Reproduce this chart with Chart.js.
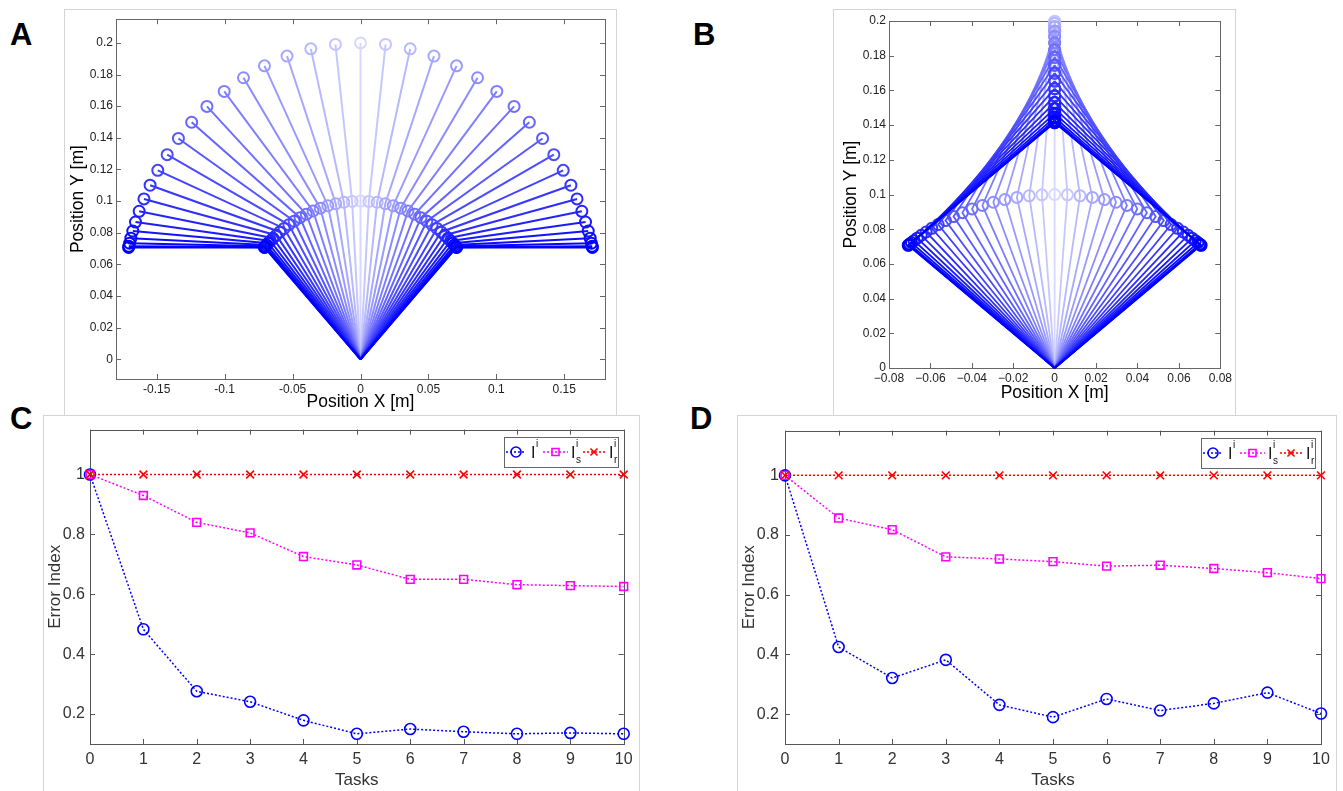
<!DOCTYPE html>
<html>
<head>
<meta charset="utf-8">
<script src="https://cdn.jsdelivr.net/npm/chart.js@4.4.1/dist/chart.umd.min.js"></script>
<style>
  body { margin: 0; background: #fff; width: 1343px; height: 791px; overflow: hidden; position: relative; font-family: "Liberation Sans", Arial, sans-serif; }
  .box { position: absolute; border: 1px solid #d4d4d4; background: #fff; box-sizing: border-box; }
  canvas { position: absolute; }
  .letter { position: absolute; font-weight: bold; font-size: 31px; line-height: 31px; color: #000; }
</style>
</head>
<body>
<div class="box" style="left:43px;top:415px;width:597px;height:390px"></div>
<div class="box" style="left:737px;top:415px;width:600px;height:390px"></div>
<div class="box" style="left:64px;top:9px;width:553px;height:407px"></div>
<div class="box" style="left:833px;top:9px;width:403px;height:407px"></div>

<canvas id="chartA" width="552" height="406" style="left:64px;top:9px"></canvas>
<canvas id="chartB" width="402" height="406" style="left:833px;top:9px"></canvas>
<canvas id="chartC" width="596" height="376" style="left:43px;top:415px"></canvas>
<canvas id="chartD" width="606" height="376" style="left:737px;top:415px"></canvas>

<div class="letter" style="left:10px;top:19px">A</div>
<div class="letter" style="left:693px;top:19px">B</div>
<div class="letter" style="left:10px;top:403px">C</div>
<div class="letter" style="left:690px;top:403px">D</div>

<script>
// ---- panels A / B : arm configurations (base at 0,0 -> elbow -> end point) ----
const elbowX = [-0.07071, -0.07054, -0.07002, -0.06916, -0.06794, -0.06636, -0.06441, -0.06207, -0.05935, -0.05624,
  -0.05273, -0.04883, -0.04454, -0.03990, -0.03491, -0.02961, -0.02403, -0.01823, -0.01226, -0.00616, 0,
  0.00616, 0.01226, 0.01823, 0.02403, 0.02961, 0.03491, 0.03990, 0.04454, 0.04883, 0.05273,
  0.05624, 0.05935, 0.06207, 0.06441, 0.06636, 0.06794, 0.06916, 0.07002, 0.07054, 0.07071];
const elbowY = [0.07071, 0.07088, 0.07139, 0.07223, 0.07338, 0.07481, 0.07650, 0.07840, 0.08048, 0.08269,
  0.08497, 0.08727, 0.08953, 0.09170, 0.09371, 0.09552, 0.09707, 0.09832, 0.09925, 0.09981, 0.10000,
  0.09981, 0.09925, 0.09832, 0.09707, 0.09552, 0.09371, 0.09170, 0.08953, 0.08727, 0.08497,
  0.08269, 0.08048, 0.07840, 0.07650, 0.07481, 0.07338, 0.07223, 0.07139, 0.07088, 0.07071];
const endAX = [-0.17071, -0.17054, -0.17001, -0.16907, -0.16765, -0.16565, -0.16295, -0.15941, -0.15489, -0.14924,
  -0.14233, -0.13404, -0.12430, -0.11306, -0.10033, -0.08616, -0.07069, -0.05409, -0.03658, -0.01845, 0,
  0.01845, 0.03658, 0.05409, 0.07069, 0.08616, 0.10033, 0.11306, 0.12430, 0.13404, 0.14233,
  0.14924, 0.15489, 0.15941, 0.16295, 0.16565, 0.16765, 0.16907, 0.17001, 0.17054, 0.17071];
const endAY = [0.07071, 0.07137, 0.07333, 0.07657, 0.08106, 0.08674, 0.09354, 0.10135, 0.11004, 0.11944,
  0.12937, 0.13960, 0.14986, 0.15987, 0.16934, 0.17799, 0.18552, 0.19168, 0.19624, 0.19905, 0.20000,
  0.19905, 0.19624, 0.19168, 0.18552, 0.17799, 0.16934, 0.15987, 0.14986, 0.13960, 0.12937,
  0.11944, 0.11004, 0.10135, 0.09354, 0.08674, 0.08106, 0.07657, 0.07333, 0.07137, 0.07071];
const endBX = [0, 0, 0, 0, 0, 0, 0, 0, 0, 0, 0, 0, 0, 0, 0, 0, 0, 0, 0, 0, 0,
  0, 0, 0, 0, 0, 0, 0, 0, 0, 0, 0, 0, 0, 0, 0, 0, 0, 0, 0, 0];
const endBY = [0.14142, 0.14176, 0.14278, 0.14446, 0.14675, 0.14962, 0.15299, 0.15681, 0.16097, 0.16538,
  0.16994, 0.17455, 0.17907, 0.18339, 0.18742, 0.19103, 0.19414, 0.19665, 0.19849, 0.19962, 0.20000,
  0.19962, 0.19849, 0.19665, 0.19414, 0.19103, 0.18742, 0.18339, 0.17907, 0.17455, 0.16994,
  0.16538, 0.16097, 0.15681, 0.15299, 0.14962, 0.14675, 0.14446, 0.14278, 0.14176, 0.14142];

const tickAX = [-0.15, -0.1, -0.05, 0, 0.05, 0.1, 0.15];
const tickAXLabels = ['-0.15', '-0.1', '-0.05', '0', '0.05', '0.1', '0.15'];
const tickBX = [-0.08, -0.06, -0.04, -0.02, 0, 0.02, 0.04, 0.06, 0.08];
const tickBXLabels = ['\u22120.08', '\u22120.06', '\u22120.04', '\u22120.02', '0', '0.02', '0.04', '0.06', '0.08'];
const tickPosY = [0, 0.02, 0.04, 0.06, 0.08, 0.1, 0.12, 0.14, 0.16, 0.18, 0.2];
const tickPosYLabels = ['0', '0.02', '0.04', '0.06', '0.08', '0.1', '0.12', '0.14', '0.16', '0.18', '0.2'];

// ---- panels C / D : error index per task ----
const tasks = [0, 1, 2, 3, 4, 5, 6, 7, 8, 9, 10];
const errC_I  = [1, 0.483, 0.276, 0.241, 0.179, 0.134, 0.150, 0.141, 0.134, 0.137, 0.134];
const errC_Is = [1, 0.930, 0.840, 0.805, 0.726, 0.698, 0.650, 0.650, 0.632, 0.629, 0.626];
const errC_Ir = [1, 1, 1, 1, 1, 1, 1, 1, 1, 1, 1];
const errD_I  = [1, 0.425, 0.321, 0.382, 0.231, 0.190, 0.251, 0.212, 0.236, 0.272, 0.202];
const errD_Is = [1, 0.857, 0.818, 0.727, 0.720, 0.711, 0.696, 0.699, 0.688, 0.674, 0.654];
const errD_Ir = [1, 1, 1, 1, 1, 1, 1, 1, 1, 1, 1];
const tickErr = [0.2, 0.4, 0.6, 0.8, 1];
const tickErrLabels = ['0.2', '0.4', '0.6', '0.8', '1'];
const seriesSub = ['', 's', 'r'];

const FONT = '"Liberation Sans", Arial, sans-serif';

// MATLAB style box with inward ticks on all four sides
const framePlugin = {
  id: 'frame',
  beforeDatasetsDraw(chart, args, opts) {
    const { ctx, chartArea: a, scales: { x, y } } = chart;
    const L = opts.tick;
    ctx.save();
    ctx.strokeStyle = opts.color;
    ctx.lineWidth = 1;
    ctx.beginPath();
    x.ticks.forEach(t => {
      const px = Math.round(x.getPixelForValue(t.value)) + 0.5;
      ctx.moveTo(px, a.bottom); ctx.lineTo(px, a.bottom - L);
      ctx.moveTo(px, a.top); ctx.lineTo(px, a.top + L);
    });
    y.ticks.forEach(t => {
      const py = Math.round(y.getPixelForValue(t.value)) + 0.5;
      ctx.moveTo(a.left, py); ctx.lineTo(a.left + L, py);
      ctx.moveTo(a.right, py); ctx.lineTo(a.right - L, py);
    });
    ctx.stroke();
    ctx.strokeRect(Math.round(a.left) + 0.5, Math.round(a.top) + 0.5,
      Math.round(a.right - a.left), Math.round(a.bottom - a.top));
    ctx.restore();
  }
};

// legend box with I^i, I_s^i, I_r^i
const legendPlugin = {
  id: 'mlegend',
  afterDatasetsDraw(chart) {
    const { ctx, chartArea: a } = chart;
    const w = 114, h = 30;
    const L = Math.round(a.right - 6 - w), T = Math.round(a.top + 7);
    const slots = [[2, 22, 27], [39, 64, 67], [79, 101, 105]];
    ctx.save();
    ctx.fillStyle = '#fff';
    ctx.fillRect(L, T, w, h);
    ctx.strokeStyle = '#666';
    ctx.lineWidth = 1;
    ctx.strokeRect(L + 0.5, T + 0.5, w, h);
    const cy = T + h / 2;
    chart.data.datasets.forEach((ds, i) => {
      const [x0, x1, tx] = slots[i];
      ctx.strokeStyle = ds.borderColor;
      ctx.lineWidth = ds.borderWidth;
      ctx.setLineDash(ds.borderDash);
      ctx.beginPath();
      ctx.moveTo(L + x0, cy); ctx.lineTo(L + x1, cy);
      ctx.stroke();
      ctx.setLineDash([]);
      ctx.fillStyle = 'rgba(0,0,0,0)';
      ctx.lineWidth = ds.pointBorderWidth;
      Chart.helpers.drawPoint(ctx, { pointStyle: ds.pointStyle, radius: ds.pointRadius - 0.5, rotation: 0, borderWidth: ds.pointBorderWidth }, L + (x0 + x1) / 2, cy);
      ctx.fillStyle = '#111';
      ctx.textBaseline = 'alphabetic';
      ctx.font = '16px ' + FONT;
      ctx.fillText('I', L + tx, cy + 6);
      ctx.font = '10px ' + FONT;
      ctx.fillText('i', L + tx + 5, cy - 5);
      if (seriesSub[i]) ctx.fillText(seriesSub[i], L + tx + 5, cy + 11);
    });
    ctx.restore();
  }
};

function armDatasets(endX, endY, width, radius) {
  const mid = (elbowX.length - 1) / 2;
  return elbowX.map((ex, i) => {
    const t = Math.abs(i - mid) / mid;
    const c = Math.round(215 * Math.pow(1 - t, 1.5));
    const col = `rgb(${c},${c},255)`;
    return {
      data: [{ x: 0, y: 0 }, { x: ex, y: elbowY[i] }, { x: endX[i], y: endY[i] }],
      showLine: true,
      borderColor: col,
      borderWidth: width,
      pointRadius: [0, radius, radius],
      pointBorderColor: col,
      pointBackgroundColor: 'rgba(0,0,0,0)',
      pointBorderWidth: 2,
      order: Math.round(mid - Math.abs(i - mid)),
      clip: false
    };
  });
}

function linAxis(cfg) {
  return {
    type: 'linear',
    min: cfg.min, max: cfg.max,
    afterBuildTicks: s => { s.ticks = cfg.ticks.map(v => ({ value: v })); },
    afterFit: s => { if (cfg.size.w !== undefined) s.width = cfg.size.w; else s.height = cfg.size.h; },
    grid: { display: false, drawTicks: false },
    border: { display: false },
    ticks: {
      autoSkip: false, maxRotation: 0, padding: cfg.pad,
      color: cfg.tickColor, font: { family: FONT, size: cfg.tickSize },
      callback: (v, i) => cfg.labels[i]
    },
    title: {
      display: true, text: cfg.title, color: cfg.titleColor,
      font: { family: FONT, size: cfg.titleSize },
      padding: cfg.titlePad
    }
  };
}

function armChart(id, endX, endY, x, y, padding, width, radius) {
  return new Chart(document.getElementById(id), {
    type: 'scatter',
    data: { datasets: armDatasets(endX, endY, width, radius) },
    options: {
      responsive: false, animation: false,
      layout: { padding: padding },
      plugins: { legend: { display: false }, tooltip: { enabled: false }, frame: { color: '#666', tick: 5 } },
      scales: { x: linAxis(x), y: linAxis(y) }
    },
    plugins: [framePlugin]
  });
}

armChart('chartA', endAX, endAY,
  { min: -0.18, max: 0.18, ticks: tickAX, labels: tickAXLabels, size: { h: 36 }, pad: 3, tickColor: '#222', tickSize: 12,
    title: 'Position X [m]', titleColor: '#000', titleSize: 17.5, titlePad: { top: 0, bottom: 2.5 } },
  { min: -0.0125, max: 0.215, ticks: tickPosY, labels: tickPosYLabels, size: { w: 52 }, pad: 3, tickColor: '#222', tickSize: 12,
    title: 'Position Y [m]', titleColor: '#000', titleSize: 17.5, titlePad: { top: 3.5, bottom: 0 } },
  { left: 0, top: 6, right: 11, bottom: 0 }, 2, 5.5);

armChart('chartB', endBX, endBY,
  { min: -0.08, max: 0.08, ticks: tickBX, labels: tickBXLabels, size: { h: 47 }, pad: 3, tickColor: '#222', tickSize: 12,
    title: 'Position X [m]', titleColor: '#000', titleSize: 17.5, titlePad: { top: 0, bottom: 11.5 } },
  { min: 0, max: 0.2, ticks: tickPosY, labels: tickPosYLabels, size: { w: 56 }, pad: 3, tickColor: '#222', tickSize: 12,
    title: 'Position Y [m]', titleColor: '#000', titleSize: 17.5, titlePad: { top: 7.5, bottom: 0 } },
  { left: 0, top: 12, right: 13, bottom: 0 }, 1.8, 5.5);

function errDataset(values, color, style, order) {
  return {
    data: tasks.map((t, i) => ({ x: t, y: values[i] })),
    showLine: true,
    borderColor: color,
    borderWidth: 1.5,
    borderDash: [2, 2],
    pointStyle: style,
    pointRadius: 5.5,
    pointBorderColor: color,
    pointBackgroundColor: 'rgba(0,0,0,0)',
    pointBorderWidth: 1.6,
    order: order,
    clip: false
  };
}

function errChart(id, vI, vIs, vIr, yW, yPad, right) {
  return new Chart(document.getElementById(id), {
    type: 'scatter',
    data: {
      datasets: [
        errDataset(vI, '#0000ff', 'circle', 2),
        errDataset(vIs, '#ff00ff', 'rect', 1),
        errDataset(vIr, '#ff0000', 'crossRot', 0)
      ]
    },
    options: {
      responsive: false, animation: false,
      layout: { padding: { left: 0, top: 5, right: right, bottom: 0 } },
      plugins: { legend: { display: false }, tooltip: { enabled: false }, frame: { color: '#555', tick: 5 } },
      scales: {
        x: linAxis({ min: 0, max: 10, ticks: tasks, labels: tasks.map(String), size: { h: 47 }, pad: 6.4,
          tickColor: '#333', tickSize: 16, title: 'Tasks', titleColor: '#333', titleSize: 17, titlePad: { top: 0, bottom: 0 } }),
        y: linAxis({ min: 0.1, max: 1.15, ticks: tickErr, labels: tickErrLabels, size: { w: yW }, pad: yPad,
          tickColor: '#333', tickSize: 16, title: 'Error Index', titleColor: '#333', titleSize: 17, titlePad: { top: 2.5, bottom: 0 } })
      }
    },
    plugins: [framePlugin, legendPlugin]
  });
}

errChart('chartC', errC_I, errC_Is, errC_Ir, 47, 5, 12);
errChart('chartD', errD_I, errD_Is, errD_Ir, 48, 6, 22);
</script>
</body>
</html>
